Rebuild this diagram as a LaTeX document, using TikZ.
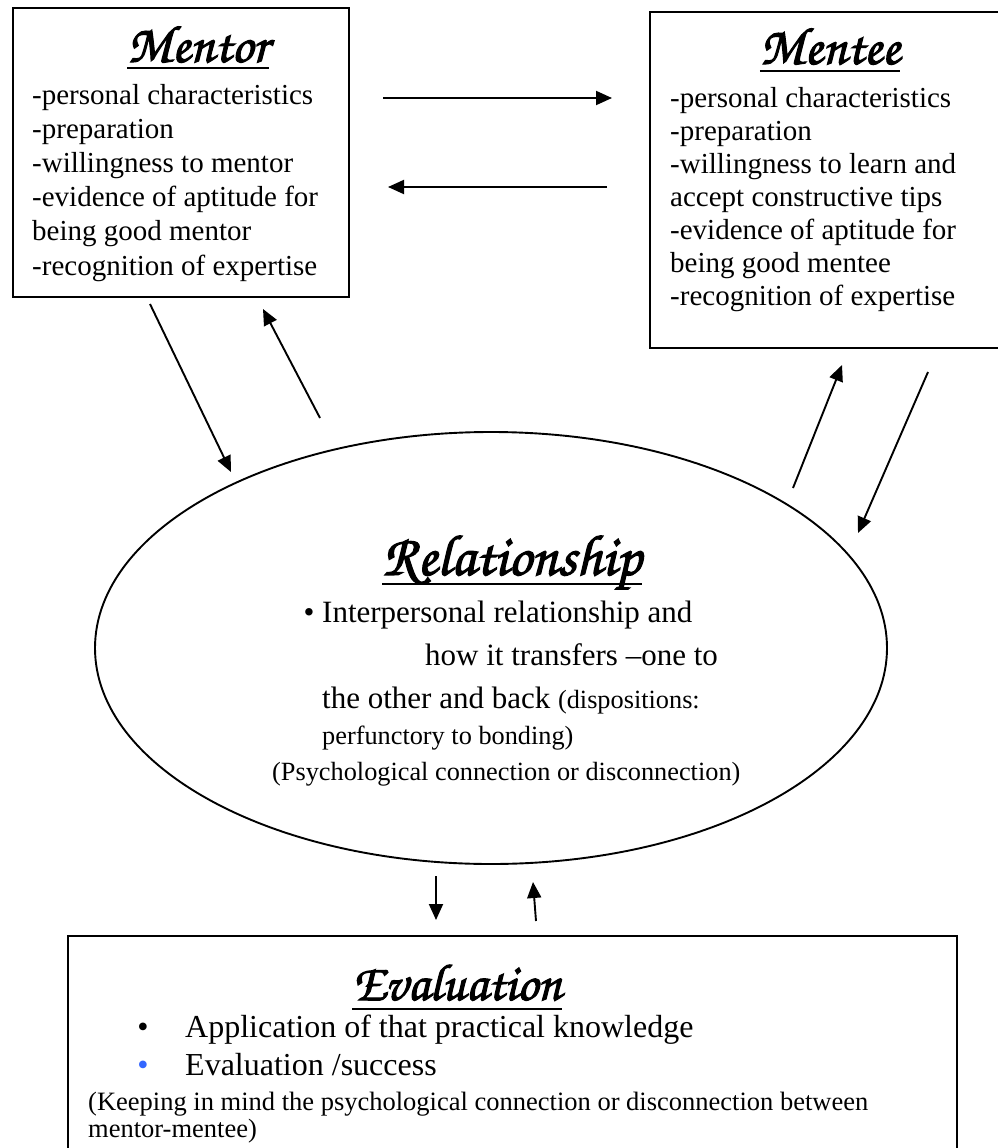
\documentclass[tikz,border=0pt]{standalone}
\usepackage{fontspec}
\setmainfont{Liberation Serif}
\newfontfamily\titlefont[FakeBold=2]{texgyrechorus-mediumitalic.otf}
\usetikzlibrary{arrows.meta,shapes.geometric}
\definecolor{bulletblue}{RGB}{51,102,255}
\tikzset{
  box/.style={draw, line width=1.9pt, inner sep=0pt, anchor=north west},
  conn/.style={line width=1.9pt, -{Triangle[length=16pt,width=14pt]}},
  ttl/.style={anchor=base, inner sep=0pt, font=\titlefont\fontsize{53}{53}\selectfont},
  body/.style={anchor=base west, inner sep=0pt, font=\fontsize{29}{34}\selectfont},
  bigtext/.style={anchor=base west, inner sep=0pt, font=\fontsize{31}{31}\selectfont},
  smalltext/.style={anchor=base west, inner sep=0pt, font=\fontsize{26.3}{26.3}\selectfont},
  evtext/.style={anchor=base west, inner sep=0pt, font=\fontsize{32}{32}\selectfont},
  uline/.style={line width=2.6pt},
}
\begin{document}
\begin{tikzpicture}[x=1pt,y=-1pt]
\useasboundingbox (0,0) rectangle (998,1148);
\clip (0,0) rectangle (998,1148);

% Mentor box
\node[box, minimum width=336pt, minimum height=289pt] (mentorbox) at (12,7) {};
\node[ttl] (tmentor) at (198,62) {Mentor};
\draw[uline] ([yshift=-6pt]tmentor.base west) -- ([yshift=-6pt]tmentor.base east);
\foreach \t [count=\i] in {-personal characteristics,-preparation,-willingness to mentor,-evidence of aptitude for,being good mentor,-recognition of expertise}
  \node[body] (mentor\i) at (32,{104+34.2*(\i-1)}) {\t};

% Mentee box
\node[box, minimum width=360pt, minimum height=336pt] (menteebox) at (649,11) {};
\node[ttl] (tmentee) at (830,64) {Mentee};
\draw[uline] ([yshift=-7pt]tmentee.base west) -- ([yshift=-7pt]tmentee.base east);
\foreach \t [count=\i] in {-personal characteristics,-preparation,-willingness to learn and,accept constructive tips,-evidence of aptitude for,being good mentee,-recognition of expertise}
  \node[body] (mentee\i) at (670,{107+33*(\i-1)}) {\t};

% Relationship ellipse
\node[draw, ellipse, line width=1.9pt, minimum width=792pt, minimum height=432pt, inner sep=0pt] (rel) at (491,648) {};
\node[ttl, font=\titlefont\fontsize{58}{58}\selectfont] (trel) at (512,575) {Relationship};
\draw[uline] ([yshift=-9pt]trel.base west) -- ([yshift=-9pt]trel.base east);
\node[bigtext, anchor=base] (rbullet) at (309,622) {•};
\node[bigtext] (r1) at (322,622) {Interpersonal relationship and};
\node[bigtext] (r2) at (425,665) {how it transfers –one to};
\node[bigtext] (r3) at (322,708) {the other and back {\fontsize{26.3}{26.3}\selectfont (dispositions:}};
\node[smalltext] (r4) at (322,744) {perfunctory to bonding)};
\node[smalltext] (r5) at (272,780) {(Psychological connection or disconnection)};

% Evaluation box
\node[box, minimum width=889pt, minimum height=260pt] (evalbox) at (67,935) {};
\node[ttl, font=\titlefont\fontsize{52}{52}\selectfont] (teval) at (457,1000) {Evaluation};
\draw[uline] ([yshift=-9pt]teval.base west) -- ([yshift=-9pt]teval.base east);
\node[evtext, anchor=base] (eb1) at (143,1037) {•};
\node[evtext] (e1) at (185,1037) {Application of that practical knowledge};
\node[evtext, anchor=base, text=bulletblue] (eb2) at (143,1075) {•};
\node[evtext] (e2) at (185,1075) {Evaluation /success};
\node[smalltext, font=\fontsize{26.5}{27}\selectfont] (e3) at (88,1110) {(Keeping in mind the psychological connection or disconnection between};
\node[smalltext, font=\fontsize{26.5}{27}\selectfont] (e4) at (88,1137) {mentor-mentee)};

% connector end points
\coordinate (a1s) at (383,98);  \coordinate (a1e) at (612,98);
\coordinate (a2s) at (607,187); \coordinate (a2e) at (388,187);
\coordinate (a3s) at (150,304); \coordinate (a3e) at (231,472);
\coordinate (a4s) at (320,418); \coordinate (a4e) at (263,309);
\coordinate (a5s) at (793,488); \coordinate (a5e) at (842,365);
\coordinate (a6s) at (928,372); \coordinate (a6e) at (858,533);
\coordinate (a7s) at (436,876); \coordinate (a7e) at (436,920);
\coordinate (a8s) at (536,921); \coordinate (a8e) at (533,882);

\draw[conn] (a1s) -- (a1e);
\draw[conn] (a2s) -- (a2e);
\draw[conn] (a3s) -- (a3e);
\draw[conn] (a4s) -- (a4e);
\draw[conn] (a5s) -- (a5e);
\draw[conn] (a6s) -- (a6e);
\draw[conn] (a7s) -- (a7e);
\draw[conn] (a8s) -- (a8e);
\end{tikzpicture}
\end{document}
